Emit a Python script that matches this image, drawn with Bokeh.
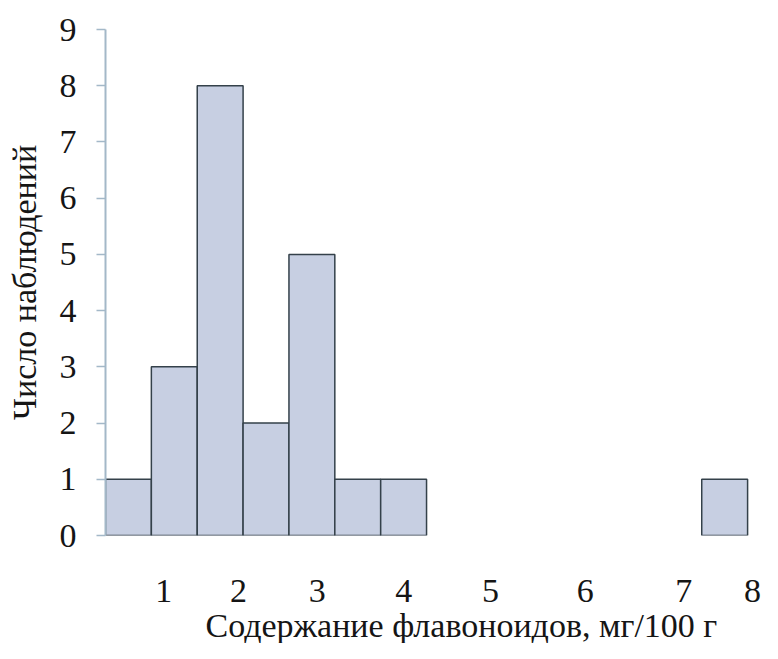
from bokeh.plotting import figure
from bokeh.models import Range1d, LinearAxis, FixedTicker, Title, ColumnDataSource
from bokeh.embed import file_html
from bokeh.resources import INLINE

# histogram data (number of observations per bin)
counts = [1, 3, 8, 2, 5, 1, 1, 0, 0, 0, 0, 0, 0, 1]
bin_start = 0.3125          # mg/100 g
bin_width = 0.5733          # mg/100 g
# x tick labels as printed under the chart
x_tick_pos = [1.04, 1.975, 2.96, 4.04, 5.125, 6.31, 7.54, 8.4]
x_tick_labels = ["1", "2", "3", "4", "5", "6", "7", "8"]
y_ticks = [0, 1, 2, 3, 4, 5, 6, 7, 8, 9]
x_title = "Содержание флавоноидов, мг/100 г"
y_title = "Число наблюдений"

lefts = [bin_start + i * bin_width for i in range(len(counts))]
keep = [i for i, c in enumerate(counts) if c > 0]
src = ColumnDataSource(dict(
    left=[lefts[i] for i in keep],
    right=[lefts[i] + bin_width for i in keep],
    top=[counts[i] for i in keep],
    bottom=[0] * len(keep),
))

FONT = "Liberation Serif"
TXT = "#151515"
AXC = "#a3b8c8"

p = figure(width=762, height=643, output_backend="svg", toolbar_location=None,
           x_range=Range1d(0.3125, 8.4375), y_range=Range1d(0, 9),
           x_axis_location=None, y_axis_location=None,
           min_border_left=105, min_border_right=7, min_border_top=29, min_border_bottom=108)
p.outline_line_color = None
p.xgrid.visible = False
p.ygrid.visible = False
p.background_fill_color = "white"
p.border_fill_color = "white"

p.quad(left="left", right="right", top="top", bottom="bottom", source=src,
       fill_color="#c7cfe2", line_color="#34414a", line_width=1.5)

yax = LinearAxis(ticker=FixedTicker(ticks=y_ticks))
yax.axis_line_color = AXC
yax.axis_line_width = 2
yax.major_tick_line_color = AXC
yax.major_tick_line_width = 1.5
yax.major_tick_out = 9
yax.major_tick_in = 0
yax.minor_tick_line_color = None
yax.major_label_text_font = FONT
yax.major_label_text_font_size = "34px"
yax.major_label_text_color = TXT
yax.major_label_standoff = 20
yax.axis_label = y_title
yax.axis_label_text_font = FONT
yax.axis_label_text_font_size = "34px"
yax.axis_label_text_font_style = "normal"
yax.axis_label_text_color = TXT
yax.axis_label_standoff = 14
p.add_layout(yax, "left")

xax = LinearAxis(ticker=FixedTicker(ticks=x_tick_pos))
xax.major_label_overrides = {pos: lab for pos, lab in zip(x_tick_pos, x_tick_labels)}
xax.axis_line_color = None
xax.major_tick_line_color = None
xax.major_tick_out = 0
xax.major_tick_in = 0
xax.minor_tick_line_color = None
xax.major_label_text_font = FONT
xax.major_label_text_font_size = "34px"
xax.major_label_text_color = TXT
xax.major_label_standoff = 44
p.add_layout(xax, "below")

t = Title(text=x_title, align="left", offset=100,
          text_font=FONT, text_font_size="34px", text_font_style="normal",
          text_color=TXT, standoff=0, text_line_height=1.0)
p.add_layout(t, "below")

open("out.html", "w").write(file_html(p, INLINE))
